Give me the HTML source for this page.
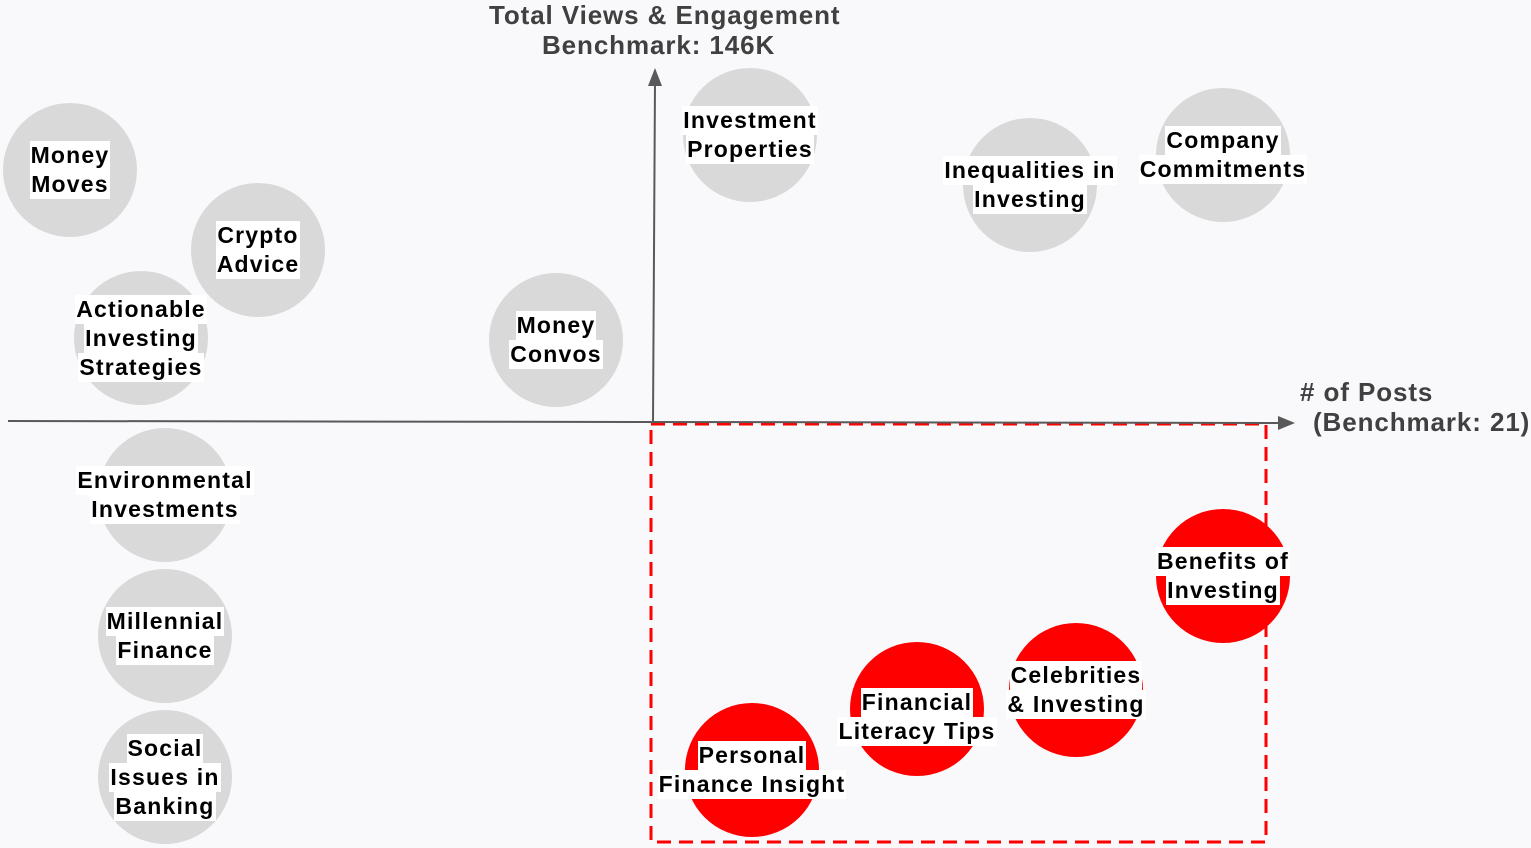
<!DOCTYPE html>
<html><head><meta charset="utf-8"><style>
body{margin:0;width:1531px;height:848px;background:#f9f9fb;position:relative;overflow:hidden;font-family:"Liberation Sans",sans-serif}
.c{position:absolute;width:134px;height:134px;border-radius:50%;background:#d9d9d9;display:flex;align-items:center;justify-content:center;flex-direction:column}
.r{background:#ff0000}
.c span{background:#fff;color:#000;font-weight:bold;font-size:23px;letter-spacing:1.2px;line-height:29px;white-space:nowrap;padding:0 1px}
.t{position:absolute;color:#404040;font-weight:bold;font-size:26px;letter-spacing:0.9px;white-space:nowrap;line-height:30px}
</style></head><body>
<svg width="1531" height="848" style="position:absolute;left:0;top:0">
<rect x="651" y="424" width="615" height="418" fill="none" stroke="#ff0000" stroke-width="3" stroke-dasharray="14 8"/>
<line x1="8" y1="421" x2="1280" y2="423" stroke="#595959" stroke-width="2"/>
<polygon points="1278,416 1295,423 1278,430" fill="#595959"/>
<line x1="653" y1="422" x2="655" y2="82" stroke="#595959" stroke-width="2"/>
<polygon points="648,86 655,68 662,86" fill="#595959"/>
</svg>
<div class="t" style="left:489px;top:0px">Total Views &amp; Engagement</div>
<div class="t" style="left:542px;top:30px">Benchmark: 146K</div>
<div class="t" style="left:1300px;top:377px">#&nbsp;of Posts</div>
<div class="t" style="left:1313px;top:407px">(Benchmark: 21)</div>

<div class="c" style="left:3px;top:103px"><span>Money</span><span>Moves</span></div>
<div class="c" style="left:191px;top:183px"><span>Crypto</span><span>Advice</span></div>
<div class="c" style="left:74px;top:271px"><span>Actionable</span><span>Investing</span><span>Strategies</span></div>
<div class="c" style="left:489px;top:273px"><span>Money</span><span>Convos</span></div>
<div class="c" style="left:683px;top:68px"><span>Investment</span><span>Properties</span></div>
<div class="c" style="left:963px;top:118px"><span>Inequalities in</span><span>Investing</span></div>
<div class="c" style="left:1156px;top:88px"><span>Company</span><span>Commitments</span></div>
<div class="c" style="left:98px;top:428px"><span>Environmental</span><span>Investments</span></div>
<div class="c" style="left:98px;top:569px"><span>Millennial</span><span>Finance</span></div>
<div class="c" style="left:98px;top:710px"><span>Social</span><span>Issues in</span><span>Banking</span></div>
<div class="c r" style="left:1156px;top:509px"><span>Benefits of</span><span>Investing</span></div>
<div class="c r" style="left:1009px;top:623px"><span>Celebrities</span><span>&amp; Investing</span></div>
<div class="c r" style="left:850px;top:642px;padding-top:16px;box-sizing:border-box"><span>Financial</span><span>Literacy Tips</span></div>
<div class="c r" style="left:685px;top:703px"><span>Personal</span><span>Finance Insight</span></div>
</body></html>
